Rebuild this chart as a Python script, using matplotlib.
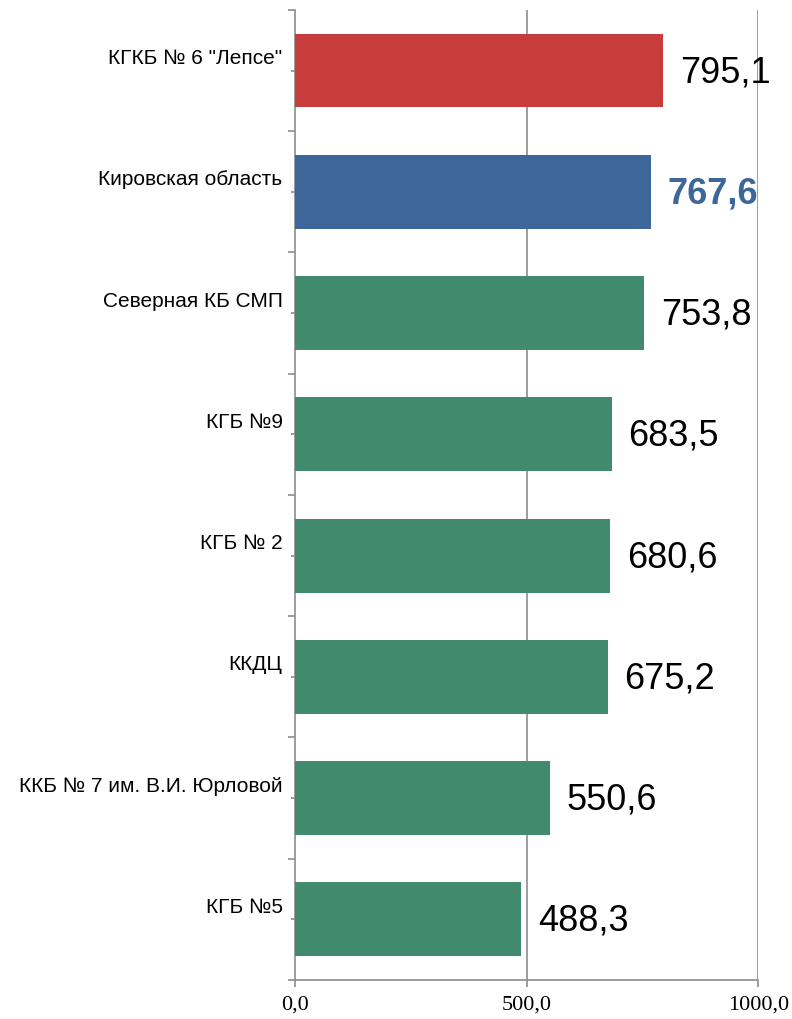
import matplotlib.pyplot as plt
import matplotlib.transforms as mtransforms
from matplotlib.ticker import FuncFormatter, FixedLocator

categories = ['КГКБ № 6 "Лепсе"', 'Кировская область', 'Северная КБ СМП', 'КГБ №9',
              'КГБ № 2', 'ККДЦ', 'ККБ № 7 им. В.И. Юрловой', 'КГБ №5']
values = [795.1, 767.6, 753.8, 683.5, 680.6, 675.2, 550.6, 488.3]
bar_colors = ['#C83C3B', '#3D679A', '#418A6E', '#418A6E',
              '#418A6E', '#418A6E', '#418A6E', '#418A6E']
x_ticks = [0, 500, 1000]

grey = '#8C8C8C'

fig = plt.figure(figsize=(7.92, 10.19), dpi=100)
ax = fig.add_axes([0.3725, 0.0383, 0.585, 0.952])

ypos = list(range(len(categories)))
ax.barh(ypos, values, height=0.61, color=bar_colors, zorder=3)

ax.set_xlim(0, 1000)
ax.set_ylim(len(categories) - 0.5, -0.5)

# vertical gridlines
for xv in x_ticks[1:]:
    ax.axvline(xv, color=grey, lw=1.2, zorder=1)

for s in ['top', 'right']:
    ax.spines[s].set_visible(False)
for s in ['left', 'bottom']:
    ax.spines[s].set_color(grey)
    ax.spines[s].set_linewidth(1.2)

ax.set_xticks(x_ticks)
ax.xaxis.set_major_formatter(FuncFormatter(lambda v, p: f"{v:.1f}".replace('.', ',')))
ax.tick_params(axis='x', length=5, width=1.2, color=grey, pad=6)
for lab in ax.get_xticklabels():
    lab.set_fontfamily('Liberation Serif')
    lab.set_fontsize(16)

ax.set_yticks(ypos)
ax.set_yticklabels(categories, fontsize=15, fontfamily='Liberation Sans')
ax.yaxis.set_minor_locator(FixedLocator([i - 0.5 for i in range(len(categories) + 1)]))
ax.tick_params(axis='y', which='major', length=3, width=1.2, color=grey, pad=6)
ax.tick_params(axis='y', which='minor', length=5, width=1.2, color=grey)

# category labels sit a little above the bar centre
shift = mtransforms.ScaledTranslation(0, 14 / 100, fig.dpi_scale_trans)
for lab in ax.get_yticklabels():
    lab.set_transform(lab.get_transform() + shift)

# value labels
for i, v in enumerate(values):
    txt = f"{v:.1f}".replace('.', ',')
    if i == 1:
        ax.annotate(txt, (v, i), xytext=(12, -1.5), textcoords='offset points',
                    va='center', ha='left', fontsize=26, fontweight='bold',
                    color='#3D679A', fontfamily='Liberation Sans', zorder=4)
    else:
        ax.annotate(txt, (v, i), xytext=(12, -1.5), textcoords='offset points',
                    va='center', ha='left', fontsize=26,
                    color='black', fontfamily='Liberation Sans', zorder=4)

plt.savefig('out.png', dpi=100)
plt.close(fig)
